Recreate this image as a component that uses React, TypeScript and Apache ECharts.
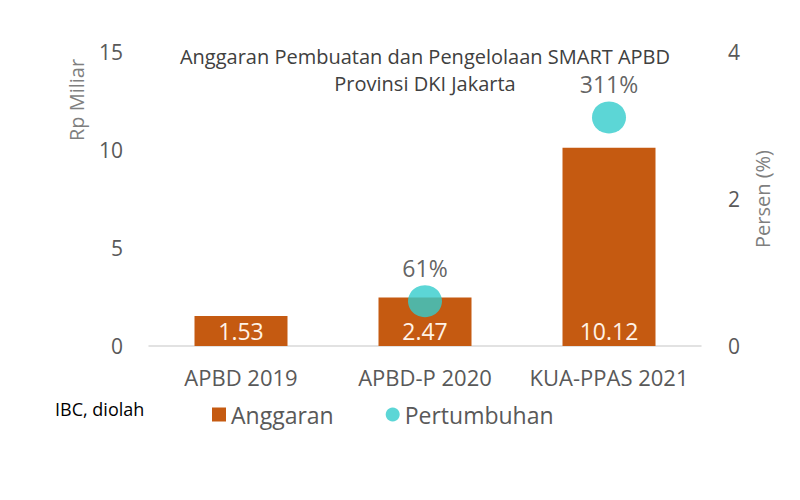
import React, { useEffect, useRef } from "react";
import * as echarts from "echarts";

const categories = ["APBD 2019", "APBD-P 2020", "KUA-PPAS 2021"];
const anggaran = [1.53, 2.47, 10.12];
const pertumbuhan: (number | null)[] = [null, 0.61, 3.11];
const pertumbuhanLabels = ["", "61%", "311%"];
const leftTicks = [0, 5, 10, 15];
const rightTicks = [0, 2, 4];

const FONT = "'Open Sans', 'Noto Sans', sans-serif";

export default function App() {
  const ref = useRef<HTMLDivElement>(null);
  useEffect(() => {
    if (!ref.current) return;
    const chart = echarts.init(ref.current, undefined, { renderer: "svg" });
    chart.setOption({
      animation: false,
      backgroundColor: "#ffffff",
      textStyle: { fontFamily: FONT },
      title: {
        text: "Anggaran Pembuatan dan Pengelolaan SMART APBD\nProvinsi DKI Jakarta",
        left: 420,
        top: 38,
        textAlign: "center",
        textStyle: { fontSize: 20, fontWeight: "normal", color: "#404040", lineHeight: 27, fontFamily: FONT },
      },
      legend: {
        left: 207,
        top: 398,
        itemGap: 52,
        itemWidth: 14,
        itemHeight: 14,
        textStyle: { fontSize: 23, color: "#595959", fontFamily: FONT },
        data: [
          { name: "Anggaran", icon: "rect" },
          { name: "Pertumbuhan", icon: "circle" },
        ],
      },
      graphic: [
        {
          type: "text",
          left: 55,
          top: 400,
          style: { text: "IBC, diolah", fontSize: 18, fill: "#000000", fontFamily: FONT },
        },
        {
          type: "text",
          x: 76,
          y: 100,
          rotation: Math.PI / 2,
          style: { text: "Rp Miliar", fontSize: 20, fill: "#7f7f7f", fontFamily: FONT, align: "center", verticalAlign: "middle" },
        },
        {
          type: "text",
          x: 762,
          y: 199,
          rotation: Math.PI / 2,
          style: { text: "Persen (%)", fontSize: 20, fill: "#7f7f7f", fontFamily: FONT, align: "center", verticalAlign: "middle" },
        },
      ],
      grid: { left: 149, right: 99, top: 52, bottom: 154 },
      xAxis: {
        type: "category",
        data: categories,
        axisLine: { lineStyle: { color: "#d9d9d9", width: 1.5 } },
        axisTick: { show: false },
        axisLabel: { fontSize: 22, color: "#595959", margin: 20, interval: 0, fontFamily: FONT },
      },
      yAxis: [
        {
          type: "value",
          min: leftTicks[0],
          max: leftTicks[leftTicks.length - 1],
          interval: 5,
          splitLine: { show: false },
          axisLine: { show: false },
          axisTick: { show: false },
          axisLabel: { fontSize: 21, color: "#595959", margin: 26, fontFamily: FONT },
        },
        {
          type: "value",
          min: rightTicks[0],
          max: rightTicks[rightTicks.length - 1],
          interval: 2,
          splitLine: { show: false },
          axisLine: { show: false },
          axisTick: { show: false },
          axisLabel: { fontSize: 21, color: "#595959", margin: 27, fontFamily: FONT },
        },
      ],
      series: [
        {
          name: "Anggaran",
          type: "bar",
          data: anggaran,
          yAxisIndex: 0,
          barWidth: 93,
          itemStyle: { color: "#c55a11" },
          label: {
            show: true,
            position: "insideBottom",
            distance: 4,
            fontSize: 23,
            color: "#fff2e6",
            fontFamily: FONT,
            formatter: (p: any) => p.value.toFixed(2),
          },
          z: 2,
        },
        {
          name: "Pertumbuhan",
          type: "scatter",
          data: pertumbuhan,
          yAxisIndex: 1,
          symbol: "circle",
          symbolSize: [34, 32],
          itemStyle: { color: "#33cccc" },
          label: {
            show: true,
            position: "top",
            distance: 6,
            fontSize: 23,
            color: "#3a3a3a",
            fontFamily: FONT,
            formatter: (p: any) => pertumbuhanLabels[p.dataIndex],
          },
          z: 3,
        },
      ],
    });
    return () => chart.dispose();
  }, []);
  return <div ref={ref} style={{ position: "fixed", left: 0, top: 0, width: 800, height: 500 }} />;
}
